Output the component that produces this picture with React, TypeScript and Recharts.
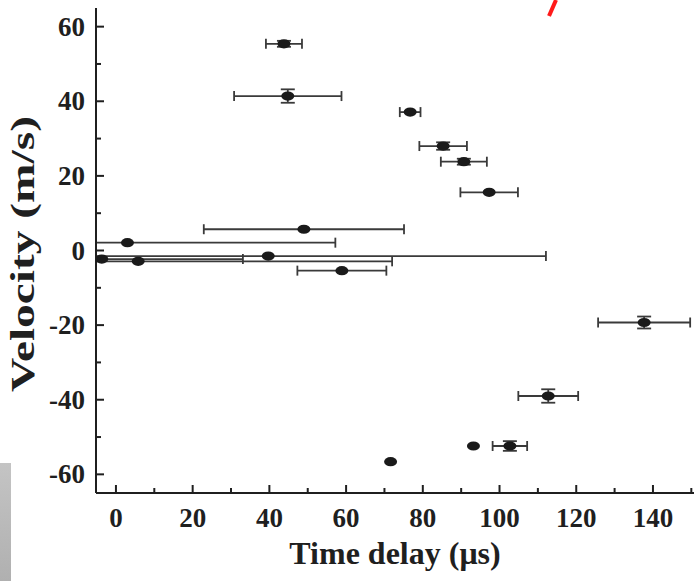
import React from 'react';
import { ScatterChart, Scatter, XAxis, YAxis, ErrorBar } from 'recharts';

const timeDelay = [43.8, 44.8, 76.7, 85.3, 90.7, 97.3, 49.0, 3.0, -3.7, 5.8, 39.7, 58.9, 137.7, 112.7, 102.7, 93.2, 71.6];
const velocity = [55.4, 41.4, 37.1, 28.0, 23.8, 15.6, 5.7, 2.1, -2.3, -2.9, -1.5, -5.4, -19.3, -39.0, -52.4, -52.4, -56.6];
const timeErr = [4.7, 14.0, 2.7, 6.2, 6.0, 7.5, 26.1, 54.2, 36.8, 66.2, 72.4, 11.6, 12.0, 7.8, 4.5, 0, 0];
const velErr = [0.8, 1.8, 0, 1.0, 0.8, 0, 0, 0, 0, 0, 0, 0, 1.6, 1.8, 1.3, 0, 0];

const xTicks = [0, 10, 20, 30, 40, 50, 60, 70, 80, 90, 100, 110, 120, 130, 140, 150];
const yTicks = [-60, -50, -40, -30, -20, -10, 0, 10, 20, 30, 40, 50, 60];
const xLabels = [0, 20, 40, 60, 80, 100, 120, 140];
const yLabels = [-60, -40, -20, 0, 20, 40, 60];

const X_DOMAIN: [number, number] = [-5.2, 150.7];
const Y_DOMAIN: [number, number] = [-65, 65];

// error extents limited to the visible axis range (the plot frame cuts the long bars)
const rows = timeDelay.map((t, i) => ({
  t,
  v: velocity[i],
  xErr: [Math.min(timeErr[i], t - X_DOMAIN[0]), Math.min(timeErr[i], X_DOMAIN[1] - t)],
  yErr: velErr[i],
  hasX: timeErr[i] > 0,
}));
const xRows = rows.filter((r) => r.hasX);
const yRows = rows.filter((r) => r.yErr > 0);

const FONT = '"Liberation Serif", "Times New Roman", serif';
const INK = '#1f1f1f';
const MAJOR = 8;
const MINOR = 5;

const BottomTick = (p: any) => {
  const v = p.payload.value;
  const major = xLabels.includes(v);
  return (
    <g>
      <line x1={p.x} y1={p.y} x2={p.x} y2={p.y - (major ? MAJOR : MINOR)} stroke={INK} strokeWidth={2} />
      {major && (
        <text x={p.x} y={p.y + 34} textAnchor="middle" fontFamily={FONT} fontWeight="bold" fontSize={27} fill={INK}>
          {v}
        </text>
      )}
    </g>
  );
};

const TopTick = (p: any) => {
  const v = p.payload.value;
  const major = xLabels.includes(v);
  return <line x1={p.x} y1={p.y} x2={p.x} y2={p.y + (major ? MAJOR : MINOR)} stroke={INK} strokeWidth={2} />;
};

const LeftTick = (p: any) => {
  const v = p.payload.value;
  const major = yLabels.includes(v);
  return (
    <g>
      <line x1={p.x} y1={p.y} x2={p.x + (major ? MAJOR : MINOR)} y2={p.y} stroke={INK} strokeWidth={2} />
      {major && (
        <text x={p.x - 11} y={p.y + 9} textAnchor="end" fontFamily={FONT} fontWeight="bold" fontSize={27} fill={INK}>
          {v}
        </text>
      )}
    </g>
  );
};

const RightTick = (p: any) => {
  const v = p.payload.value;
  const major = yLabels.includes(v);
  return <line x1={p.x} y1={p.y} x2={p.x - (major ? MAJOR : MINOR)} y2={p.y} stroke={INK} strokeWidth={2} />;
};

const Marker = (p: any) => <ellipse cx={p.cx} cy={p.cy} rx={6.5} ry={4.6} fill="#1a1a1a" />;
const Hidden = () => <g />;

const YTitle = () => {
  const cx = 23;
  const cy = 254;
  return (
    <text x={cx} y={cy} transform={`rotate(-90 ${cx} ${cy})`} textAnchor="middle" dominantBaseline="central" fontFamily={FONT} fontWeight="bold" fontSize={33} textLength={276} lengthAdjust="spacingAndGlyphs" fill={INK}>
      Velocity (m/s)
    </text>
  );
};

const XTitle = (props: any) => {
  const vb = props.viewBox;
  const cx = vb.x + vb.width / 2;
  return (
    <text x={cx} y={564} textAnchor="middle" fontFamily={FONT} fontWeight="bold" fontSize={32} fill={INK}>
      Time delay (μs)
    </text>
  );
};

export default function App() {
  return (
    <div style={{ position: 'absolute', left: 0, top: 0, width: 697, height: 581, background: '#fff' }}>
      <ScatterChart width={697} height={581} margin={{ top: 8, right: 3, bottom: 0, left: 0 }}>
        <XAxis
          xAxisId="b"
          type="number"
          dataKey="t"
          domain={X_DOMAIN}
          ticks={xTicks}
          allowDataOverflow
          orientation="bottom"
          height={88}
          tickSize={0}
          tickMargin={0}
          tickLine={false}
          tick={BottomTick}
          axisLine={{ stroke: INK, strokeWidth: 2 }}
          interval={0}
          label={{ content: XTitle }}
        />
        <XAxis
          xAxisId="t"
          type="number"
          dataKey="t"
          domain={X_DOMAIN}
          ticks={xTicks}
          allowDataOverflow
          orientation="top"
          height={0}
          tickSize={0}
          tickMargin={0}
          tickLine={false}
          tick={TopTick}
          axisLine={{ stroke: INK, strokeWidth: 2 }}
          interval={0}
        />
        <YAxis
          yAxisId="l"
          type="number"
          dataKey="v"
          domain={Y_DOMAIN}
          ticks={yTicks}
          allowDataOverflow
          orientation="left"
          width={96}
          tickSize={0}
          tickMargin={0}
          tickLine={false}
          tick={LeftTick}
          axisLine={{ stroke: INK, strokeWidth: 2 }}
          interval={0}
          label={{ content: YTitle }}
        />
        <YAxis
          yAxisId="r"
          type="number"
          dataKey="v"
          domain={Y_DOMAIN}
          ticks={yTicks}
          allowDataOverflow
          orientation="right"
          width={0}
          tickSize={0}
          tickMargin={0}
          tickLine={false}
          tick={RightTick}
          axisLine={{ stroke: INK, strokeWidth: 2 }}
          interval={0}
        />
        <Scatter data={xRows} xAxisId="b" yAxisId="l" dataKey="v" shape={Hidden} isAnimationActive={false}>
          <ErrorBar dataKey="xErr" direction="x" width={5} stroke="#3a3a3a" strokeWidth={1.8} />
        </Scatter>
        <Scatter data={yRows} xAxisId="b" yAxisId="l" dataKey="v" shape={Hidden} isAnimationActive={false}>
          <ErrorBar dataKey="yErr" direction="y" width={7} stroke="#3a3a3a" strokeWidth={1.8} />
        </Scatter>
        <Scatter data={rows} xAxisId="b" yAxisId="l" dataKey="v" shape={Marker} isAnimationActive={false} />
      </ScatterChart>
      <div style={{ position: 'absolute', left: 0, top: 463, width: 11, height: 118, background: 'linear-gradient(180deg, #c4c4c4, #b0b0b0)' }} />
      <svg style={{ position: 'absolute', left: 0, top: 0 }} width={697} height={20}>
        <line x1={556} y1={0} x2={549} y2={16} stroke="#ff1a1a" strokeWidth={4} />
      </svg>
    </div>
  );
}
